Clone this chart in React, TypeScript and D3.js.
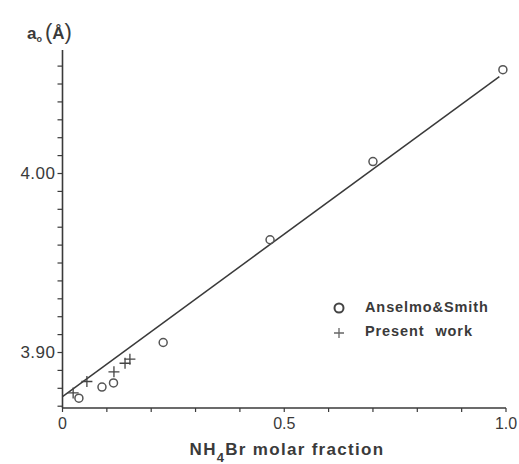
import React, { useEffect, useRef } from "react";
import * as d3 from "d3";

// Anselmo & Smith (circles)
const anselmoX = [0.037, 0.089, 0.115, 0.227, 0.468, 0.7, 0.993];
const anselmoY = [3.8745, 3.8807, 3.883, 3.9056, 3.963, 4.0067, 4.058];
// Present work (crosses)
const presentX = [0.024, 0.055, 0.116, 0.141, 0.152];
const presentY = [3.8774, 3.8838, 3.8892, 3.894, 3.8963];
// Vegard line fit
const fitIntercept = 3.8754;
const fitSlope = 0.1815;
const fitRange = [0, 0.985];

const xTicks = d3.range(0, 1.0001, 0.1);
const xLabels = [0, 0.5, 1.0];
const xLabelText = ["0", "0.5", "1.0"];
const yTicks = d3.range(3.87, 4.0651, 0.01);
const yLabels = [3.9, 4.0];
const yLabelText = ["3.90", "4.00"];

const W = 519;
const H = 464;
const ink = "#3a3a3a";

const App = () => {
  const ref = useRef<SVGSVGElement>(null);

  useEffect(() => {
    const svg = d3.select(ref.current);
    svg.selectAll("*").remove();

    const x = d3.scaleLinear().domain([0, 1]).range([62.5, 506]);
    const y = d3.scaleLinear().domain([3.869, 4.069]).range([408, 50]);

    svg.append("rect").attr("width", W).attr("height", H).attr("fill", "#fff");

    const g = svg.append("g")
      .style("font-family", "'Liberation Sans', Arial, sans-serif")
      .attr("fill", ink);

    // axes lines
    g.append("line")
      .attr("x1", x(0)).attr("x2", x(0))
      .attr("y1", y.range()[0]).attr("y2", y.range()[1])
      .attr("stroke", ink).attr("stroke-width", 1.6);
    g.append("line")
      .attr("x1", x(0)).attr("x2", x(1))
      .attr("y1", y.range()[0]).attr("y2", y.range()[0])
      .attr("stroke", ink).attr("stroke-width", 1.6);

    // y ticks (outward, left)
    g.append("g").selectAll("line")
      .data(yTicks)
      .join("line")
      .attr("x1", x(0) - 5).attr("x2", x(0))
      .attr("y1", d => y(d)).attr("y2", d => y(d))
      .attr("stroke", ink).attr("stroke-width", 1.2);

    // x ticks (outward, down)
    g.append("g").selectAll("line")
      .data(xTicks)
      .join("line")
      .attr("x1", d => x(d)).attr("x2", d => x(d))
      .attr("y1", y.range()[0]).attr("y2", y.range()[0] + 4)
      .attr("stroke", ink).attr("stroke-width", 1.2);

    g.append("g").selectAll("text")
      .data(yLabels)
      .join("text")
      .attr("x", x(0) - 7)
      .attr("y", d => y(d))
      .attr("dy", "0.35em")
      .attr("text-anchor", "end")
      .style("font-size", "17px")
      .style("letter-spacing", "0.5px")
      .text((d, i) => yLabelText[i]);

    g.append("g").selectAll("text")
      .data(xLabels)
      .join("text")
      .attr("x", d => x(d))
      .attr("y", 429)
      .attr("text-anchor", "middle")
      .style("font-size", "16px")
      .text((d, i) => xLabelText[i]);

    // x axis title
    const xt = g.append("text")
      .attr("x", 287)
      .attr("y", 455)
      .attr("text-anchor", "middle")
      .style("font-size", "17px")
      .style("font-weight", "bold")
      .style("letter-spacing", "1.3px");
    xt.append("tspan").text("NH");
    xt.append("tspan").attr("dy", 7).style("font-size", "13px").text("4");
    xt.append("tspan").attr("dy", -7).text("Br molar fraction");

    // y axis title a0 (Å)
    const yt = g.append("text")
      .attr("x", 27)
      .attr("y", 39)
      .style("font-size", "17px")
      .style("font-weight", "bold");
    yt.append("tspan").text("a");
    yt.append("tspan").attr("dy", 3).style("font-size", "9px").text("o");
    yt.append("tspan").attr("dy", -3).attr("dx", 3).style("font-weight", "normal").style("font-size", "22px").text("(");
    yt.append("tspan").text("Å");
    yt.append("tspan").style("font-weight", "normal").style("font-size", "22px").text(")");

    // fit line
    g.append("line")
      .attr("x1", x(fitRange[0])).attr("y1", y(fitIntercept + fitSlope * fitRange[0]))
      .attr("x2", x(fitRange[1])).attr("y2", y(fitIntercept + fitSlope * fitRange[1]))
      .attr("stroke", ink).attr("stroke-width", 1.5);

    // circles
    g.append("g").selectAll("circle")
      .data(anselmoX.map((v, i) => [v, anselmoY[i]]))
      .join("circle")
      .attr("cx", d => x(d[0]))
      .attr("cy", d => y(d[1]))
      .attr("r", 4)
      .attr("fill", "none")
      .attr("stroke", "#555")
      .attr("stroke-width", 1.5);

    // crosses
    const s = 5.5;
    g.append("g").selectAll("path")
      .data(presentX.map((v, i) => [v, presentY[i]]))
      .join("path")
      .attr("d", d => {
        const cx = x(d[0]), cy = y(d[1]);
        return `M${cx - s},${cy}H${cx + s}M${cx},${cy - s}V${cy + s}`;
      })
      .attr("fill", "none")
      .attr("stroke", "#444")
      .attr("stroke-width", 1.3);

    // legend
    const lg = g.append("g").attr("transform", "translate(339,308)");
    lg.append("circle").attr("r", 4.5).attr("fill", "none").attr("stroke", "#444").attr("stroke-width", 2);
    lg.append("path").attr("d", `M-5,25H5M0,20V30`).attr("stroke", "#666").attr("stroke-width", 1.3);
    lg.append("text").attr("x", 26).attr("y", -1).attr("dy", "0.35em")
      .style("font-size", "14.5px").style("font-weight", "bold").style("letter-spacing", "0.9px").text("Anselmo&Smith");
    lg.append("text").attr("x", 26).attr("y", 23).attr("dy", "0.35em")
      .style("font-size", "14.5px").style("font-weight", "bold").style("letter-spacing", "0.9px").style("word-spacing", "6px").text("Present work");
  }, []);

  return (
    <div style={{ position: "absolute", left: 0, top: 0 }}>
      <svg ref={ref} width={W} height={H}></svg>
    </div>
  );
};

export default App;
